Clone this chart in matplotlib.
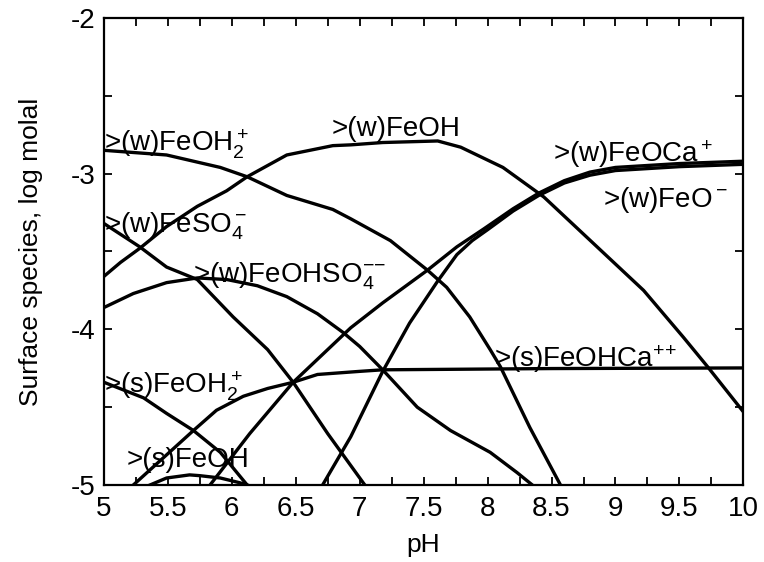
import matplotlib
matplotlib.use('Agg')
import matplotlib.pyplot as plt
from matplotlib.ticker import MultipleLocator, FormatStrFormatter

plt.rcParams['font.family'] = ['Liberation Sans', 'DejaVu Sans']
plt.rcParams['mathtext.fontset'] = 'custom'
plt.rcParams['mathtext.rm'] = 'Liberation Sans'
plt.rcParams['mathtext.it'] = 'Liberation Sans'
plt.rcParams['mathtext.bf'] = 'Liberation Sans:bold'
plt.rcParams['axes.unicode_minus'] = False

# weak sites
ph_w_feoh2 = [5.00, 5.49, 5.91, 6.12, 6.43, 6.79, 6.93, 7.24, 7.53, 7.68, 7.86, 8.02, 8.10, 8.33, 8.57]
w_feoh2 = [-2.85, -2.88, -2.96, -3.02, -3.14, -3.23, -3.29, -3.43, -3.62, -3.73, -3.92, -4.13, -4.24, -4.63, -5.00]

ph_w_feoh = [5.00, 5.13, 5.28, 5.49, 5.73, 5.96, 6.12, 6.43, 6.79, 6.93, 7.18, 7.61, 7.79, 8.12, 8.39, 8.44,
             8.83, 9.22, 9.53, 9.72, 10.0]
w_feoh = [-3.66, -3.57, -3.48, -3.34, -3.21, -3.11, -3.02, -2.88, -2.82, -2.815, -2.80, -2.79, -2.83, -2.96,
          -3.12, -3.15, -3.45, -3.75, -4.05, -4.24, -4.53]

ph_w_feso4 = [5.00, 5.28, 5.49, 5.73, 6.01, 6.28, 6.48, 6.75, 7.04]
w_feso4 = [-3.32, -3.47, -3.60, -3.68, -3.92, -4.13, -4.34, -4.67, -5.00]

ph_w_feohso4 = [5.00, 5.23, 5.49, 5.73, 5.96, 6.20, 6.43, 6.67, 6.87, 7.00, 7.18, 7.45, 7.71, 8.02, 8.23, 8.35]
w_feohso4 = [-3.86, -3.77, -3.70, -3.67, -3.68, -3.72, -3.79, -3.90, -4.02, -4.11, -4.26, -4.50, -4.65, -4.79,
             -4.92, -5.00]

ph_w_feoca = [5.83, 6.14, 6.48, 6.75, 6.93, 7.18, 7.53, 7.76, 7.97, 8.20, 8.40, 8.60, 8.80, 9.00, 9.50, 10.0]
w_feoca = [-5.00, -4.67, -4.34, -4.13, -3.99, -3.83, -3.62, -3.47, -3.355, -3.225, -3.125, -3.045, -2.99, -2.96,
           -2.935, -2.92]

ph_w_feo = [6.71, 6.93, 7.18, 7.39, 7.61, 7.76, 7.88, 8.00, 8.20, 8.40, 8.60, 8.80, 9.00, 9.50, 10.0]
w_feo = [-5.00, -4.69, -4.27, -3.96, -3.69, -3.52, -3.43, -3.36, -3.24, -3.14, -3.06, -3.01, -2.98, -2.955, -2.94]

# strong sites
ph_s_feoh2 = [5.00, 5.31, 5.49, 5.70, 5.91, 6.12]
s_feoh2 = [-4.34, -4.44, -4.54, -4.65, -4.79, -5.00]

ph_s_feoh = [5.36, 5.49, 5.67, 5.75, 5.91, 6.06, 6.12]
s_feoh = [-5.00, -4.955, -4.935, -4.94, -4.955, -4.985, -5.00]

ph_s_feohca = [5.23, 5.70, 5.88, 6.09, 6.28, 6.48, 6.67, 7.00, 7.18, 8.50, 10.0]
s_feohca = [-5.00, -4.65, -4.52, -4.43, -4.38, -4.34, -4.29, -4.27, -4.26, -4.252, -4.248]

curves = [
    (ph_w_feoh2, w_feoh2), (ph_w_feoh, w_feoh), (ph_w_feso4, w_feso4),
    (ph_w_feohso4, w_feohso4), (ph_w_feoca, w_feoca), (ph_w_feo, w_feo),
    (ph_s_feoh2, s_feoh2), (ph_s_feoh, s_feoh), (ph_s_feohca, s_feohca),
]

labels = [
    (5.0, -2.86, r'>(w)FeOH$_2^+$'),
    (6.78, -2.76, '>(w)FeOH'),
    (8.51, -2.925, r'>(w)FeOCa$^+$'),
    (8.90, -3.214, r'>(w)FeO$^-$'),
    (5.0, -3.38, r'>(w)FeSO$_4^-$'),
    (5.70, -3.696, r'>(w)FeOHSO$_4^{-\!-}$'),
    (5.0, -4.41, r'>(s)FeOH$_2^+$'),
    (5.18, -4.884, '>(s)FeOH'),
    (8.05, -4.24, r'>(s)FeOHCa$^{+\!+}$'),
]

fig = plt.figure(figsize=(7.64, 5.62), dpi=100)
ax = fig.add_axes([0.136, 0.137, 0.837, 0.831])

for x, y in curves:
    ax.plot(x, y, color='black', lw=2.4, solid_joinstyle='round')

for x, y, s in labels:
    ax.text(x, y, s, fontsize=20, ha='left', va='baseline')

ax.set_xlim(5, 10)
ax.set_ylim(-5, -2)
ax.xaxis.set_major_locator(MultipleLocator(0.5))
ax.xaxis.set_minor_locator(MultipleLocator(0.25))
ax.yaxis.set_major_locator(MultipleLocator(1))
ax.yaxis.set_minor_locator(MultipleLocator(0.5))
ax.xaxis.set_major_formatter(FormatStrFormatter('%g'))
ax.yaxis.set_major_formatter(FormatStrFormatter('%g'))

ax.tick_params(which='both', direction='in', top=True, right=True, length=6, width=1.3)
ax.tick_params(axis='x', labelsize=20, pad=8)
ax.tick_params(axis='y', labelsize=20, pad=6)
for sp in ax.spines.values():
    sp.set_linewidth(1.6)

ax.set_xlabel('pH', fontsize=19, labelpad=8)
ax.set_ylabel('Surface species, log molal', fontsize=19, labelpad=20)

fig.savefig('out.png', dpi=100)
